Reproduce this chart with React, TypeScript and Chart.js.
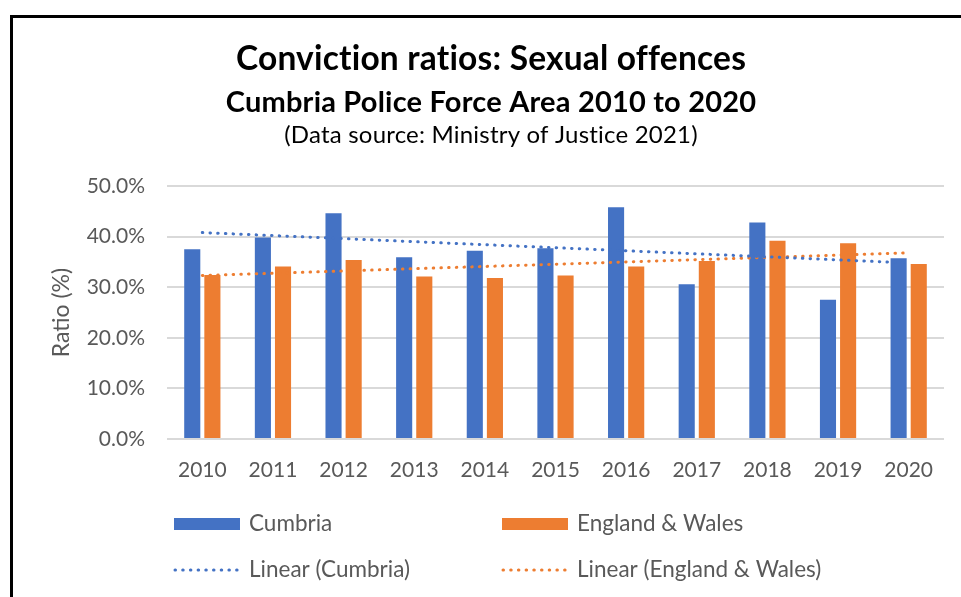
import React, { useEffect, useRef } from "react";
import { Chart, registerables } from "chart.js";

Chart.register(...registerables);

// ---- Data ----
const years = ["2010", "2011", "2012", "2013", "2014", "2015", "2016", "2017", "2018", "2019", "2020"];
const cumbria = [37.5, 39.8, 44.6, 35.9, 37.2, 37.7, 45.8, 30.6, 42.8, 27.5, 35.7];
const englandWales = [32.4, 34.1, 35.4, 32.1, 31.8, 32.3, 34.1, 35.2, 39.2, 38.7, 34.6];
// Linear trendline end values (first year, last year)
const cumbriaTrendEnds = [40.8, 34.8];
const englandWalesTrendEnds = [32.3, 36.8];

const titleText = "Conviction ratios: Sexual offences";
const subtitleText = "Cumbria Police Force Area 2010 to 2020";
const sourceText = "(Data source: Ministry of Justice 2021)";
const yAxisTitle = "Ratio (%)";
const seriesLabels = ["Cumbria", "England & Wales", "Linear (Cumbria)", "Linear (England & Wales)"];

const BLUE = "#4472C4";
const ORANGE = "#ED7D31";
const GREY_TEXT = "#595959";
const FONT = "Lato, 'Open Sans', sans-serif";

const trendSeries = (ends: number[]) =>
  years.map((_, i) => (i === 0 ? ends[0] : i === years.length - 1 ? ends[1] : null));

const titlePlugin = {
  id: "titleLines",
  afterDraw(chart: any) {
    const ctx = chart.ctx;
    ctx.save();
    ctx.fillStyle = "#000";
    ctx.textAlign = "center";
    ctx.textBaseline = "alphabetic";
    try {
      (ctx as any).letterSpacing = "0.2px";
    } catch (e) {}
    const cx = 491;
    ctx.font = `bold 33.5px ${FONT}`;
    ctx.fillText(titleText, cx, 70);
    ctx.font = `bold 29px ${FONT}`;
    ctx.fillText(subtitleText, cx, 112);
    ctx.font = `24px ${FONT}`;
    ctx.fillText(sourceText, cx, 143);
    ctx.restore();
  },
};

const legendPlugin = {
  id: "gridLegend",
  afterDraw(chart: any) {
    const ctx = chart.ctx;
    const cols = [174, 502];
    const rows = [524, 570];
    const boxW = 66;
    ctx.save();
    chart.data.datasets.forEach((ds: any, i: number) => {
      const x = cols[i % 2];
      const y = rows[Math.floor(i / 2)];
      if (ds.type === "line") {
        ctx.strokeStyle = ds.borderColor;
        ctx.lineWidth = ds.borderWidth;
        ctx.lineCap = "round";
        ctx.setLineDash(ds.borderDash);
        ctx.beginPath();
        ctx.moveTo(x + 1, y);
        ctx.lineTo(x + boxW - 1, y);
        ctx.stroke();
        ctx.setLineDash([]);
      } else {
        ctx.fillStyle = ds.backgroundColor;
        ctx.fillRect(x, y - 6, boxW, 12);
      }
      ctx.fillStyle = GREY_TEXT;
      ctx.font = `22.5px ${FONT}`;
      ctx.textAlign = "left";
      ctx.textBaseline = "middle";
      ctx.fillText(ds.label, x + 75, y);
    });
    ctx.restore();
  },
};

export default function App() {
  const canvasRef = useRef<HTMLCanvasElement | null>(null);

  useEffect(() => {
    if (!canvasRef.current) return;
    const dotted = [0.5, 7.2];
    const chart = new Chart(canvasRef.current, {
      type: "bar",
      data: {
        labels: years,
        datasets: [
          {
            type: "bar",
            label: seriesLabels[0],
            data: cumbria,
            backgroundColor: BLUE,
            order: 1,
          },
          {
            type: "bar",
            label: seriesLabels[1],
            data: englandWales,
            backgroundColor: ORANGE,
            order: 1,
          },
          {
            type: "line",
            label: seriesLabels[2],
            data: trendSeries(cumbriaTrendEnds),
            borderColor: BLUE,
            borderWidth: 3,
            borderDash: dotted,
            borderCapStyle: "round",
            pointRadius: 0,
            spanGaps: true,
            fill: false,
            order: 0,
          },
          {
            type: "line",
            label: seriesLabels[3],
            data: trendSeries(englandWalesTrendEnds),
            borderColor: ORANGE,
            borderWidth: 3,
            borderDash: dotted,
            borderCapStyle: "round",
            pointRadius: 0,
            spanGaps: true,
            fill: false,
            order: 0,
          },
        ] as any,
      },
      options: {
        responsive: false,
        animation: false,
        layout: { padding: { left: 0, right: 17, top: 186, bottom: 108 } },
        datasets: {
          bar: { categoryPercentage: 0.57, barPercentage: 0.8 },
        },
        plugins: {
          legend: { display: false },
          title: { display: false },
          tooltip: { enabled: false },
        },
        scales: {
          x: {
            grid: { display: false },
            border: { display: false },
            ticks: {
              color: GREY_TEXT,
              font: { family: FONT, size: 21 },
              padding: 11,
              maxRotation: 0,
            },
            afterFit: (s: any) => {
              s.height = 50;
            },
          },
          y: {
            min: 0,
            max: 50,
            grid: { color: "#D9D9D9", lineWidth: 2, drawTicks: false },
            border: { display: false },
            ticks: {
              stepSize: 10,
              color: GREY_TEXT,
              font: { family: FONT, size: 21 },
              padding: 22,
              callback: (v: any) => Number(v).toFixed(1) + "%",
            },
            title: {
              display: true,
              text: yAxisTitle,
              color: GREY_TEXT,
              font: { family: FONT, size: 23, weight: "normal" },
              padding: { top: 48, bottom: 0 },
            },
            afterFit: (s: any) => {
              s.width = 167;
            },
          },
        },
      },
      plugins: [titlePlugin, legendPlugin],
    });
    return () => chart.destroy();
  }, []);

  return (
    <div
      style={{
        position: "fixed",
        left: 0,
        top: 0,
        width: 961,
        height: 597,
        overflow: "hidden",
        background: "#fff",
      }}
    >
      <canvas ref={canvasRef} width={961} height={597} style={{ position: "absolute", left: 0, top: 0 }} />
      <div
        style={{
          position: "absolute",
          left: 10,
          top: 15,
          width: 1000,
          height: 700,
          borderTop: "3px solid #000",
          borderLeft: "3px solid #000",
          pointerEvents: "none",
        }}
      />
    </div>
  );
}
